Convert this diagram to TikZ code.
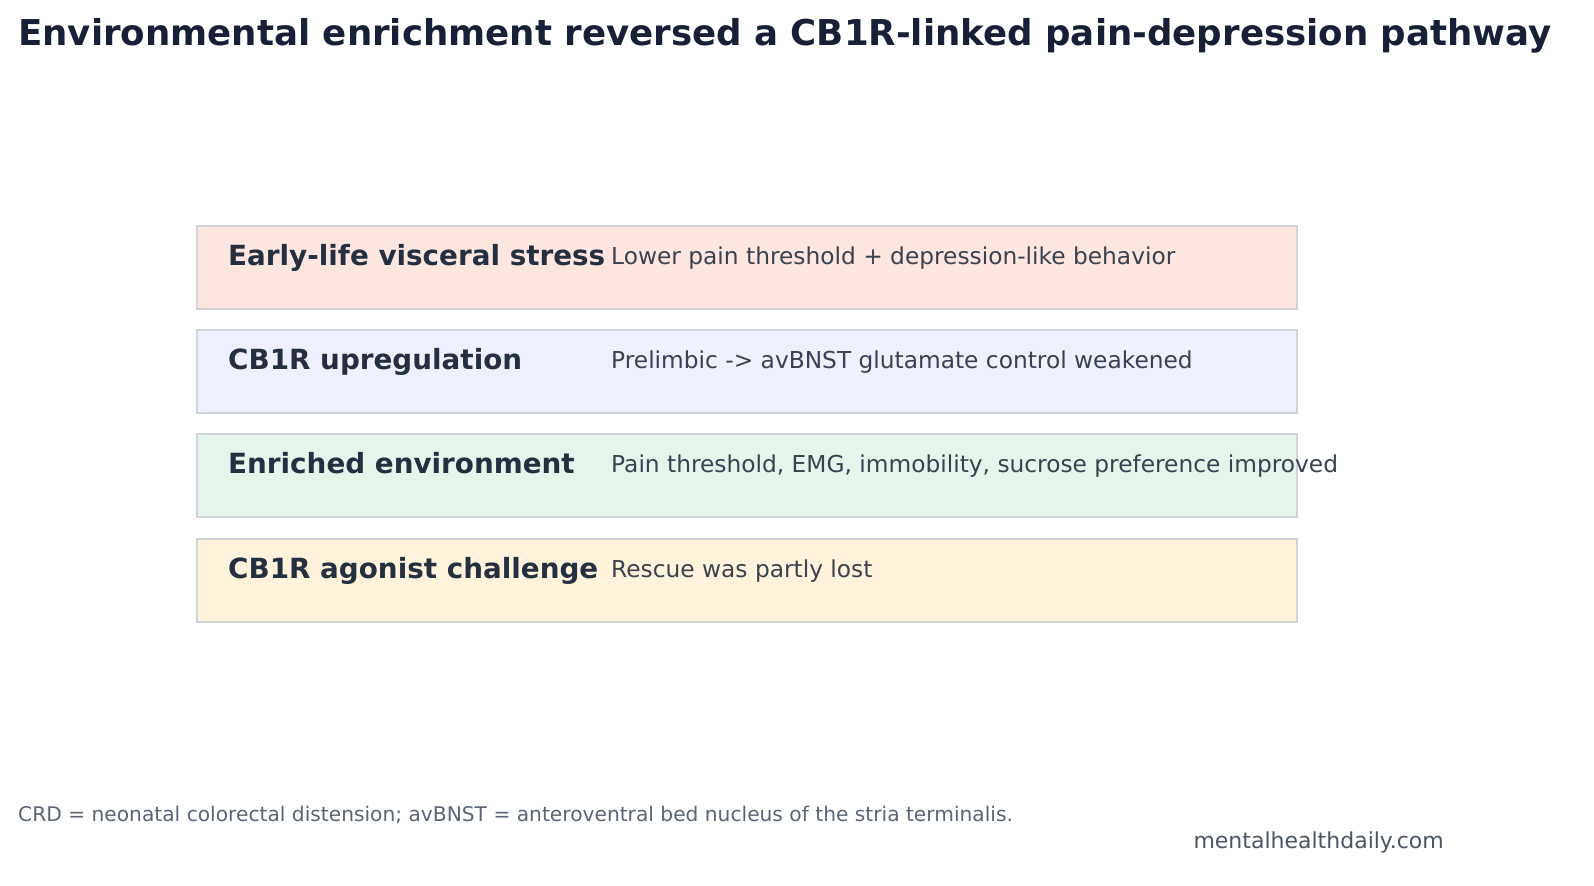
\documentclass[tikz,border=0pt]{standalone}
\usepackage{fontspec}
\setmainfont{DejaVu Sans}
\definecolor{titlec}{HTML}{172036}
\definecolor{labc}{HTML}{243040}
\definecolor{descc}{HTML}{3A4250}
\definecolor{edgec}{HTML}{D1D5DB}
\definecolor{footc}{HTML}{5A6474}
\definecolor{webc}{HTML}{4B5563}
\definecolor{fa}{HTML}{FEE6E0}
\definecolor{fb}{HTML}{EEF0FE}
\definecolor{fc}{HTML}{E5F5EC}
\definecolor{fd}{HTML}{FFF3DB}
\begin{document}
\begin{tikzpicture}[x=1bp,y=-1bp,
  band/.style={draw=edgec,line width=2bp},
  lab/.style={anchor=base west,inner sep=0,text=labc,font=\fontsize{27.8bp}{32bp}\selectfont\bfseries},
  desc/.style={anchor=base west,inner sep=0,text=descc,font=\fontsize{23.3bp}{27bp}\selectfont}]
\path[use as bounding box] (0,0) rectangle (1594,885);
\node[anchor=base west,inner sep=0,text=titlec,font=\fontsize{35.6bp}{40bp}\selectfont\bfseries] (title) at (18,45) {Environmental enrichment reversed a CB1R-linked pain-depression pathway};
\foreach \y/\c in {226/fa,330/fb,434/fc,539/fd}{
  \path[band,fill=\c] (197,\y) rectangle (1297,\y+83);
}
\node[lab] (l1) at (228,265) {Early-life visceral stress};
\node[desc] (d1) at (611,264) {Lower pain threshold + depression-like behavior};
\node[lab] (l2) at (228,369) {CB1R upregulation};
\node[desc] (d2) at (611,368) {Prelimbic -> avBNST glutamate control weakened};
\node[lab] (l3) at (228,473) {Enriched environment};
\node[desc] (d3) at (611,472) {Pain threshold, EMG, immobility, sucrose preference improved};
\node[lab] (l4) at (228,578) {CB1R agonist challenge};
\node[desc] (d4) at (611,577) {Rescue was partly lost};
\node[anchor=base west,inner sep=0,text=footc,font=\fontsize{20.2bp}{24bp}\selectfont] (foot) at (18,821) {CRD = neonatal colorectal distension; avBNST = anteroventral bed nucleus of the stria terminalis.};
\node[anchor=base east,inner sep=0,text=webc,font=\fontsize{22bp}{26bp}\selectfont] (web) at (1444,848) {mentalhealthdaily.com};
\end{tikzpicture}
\end{document}
